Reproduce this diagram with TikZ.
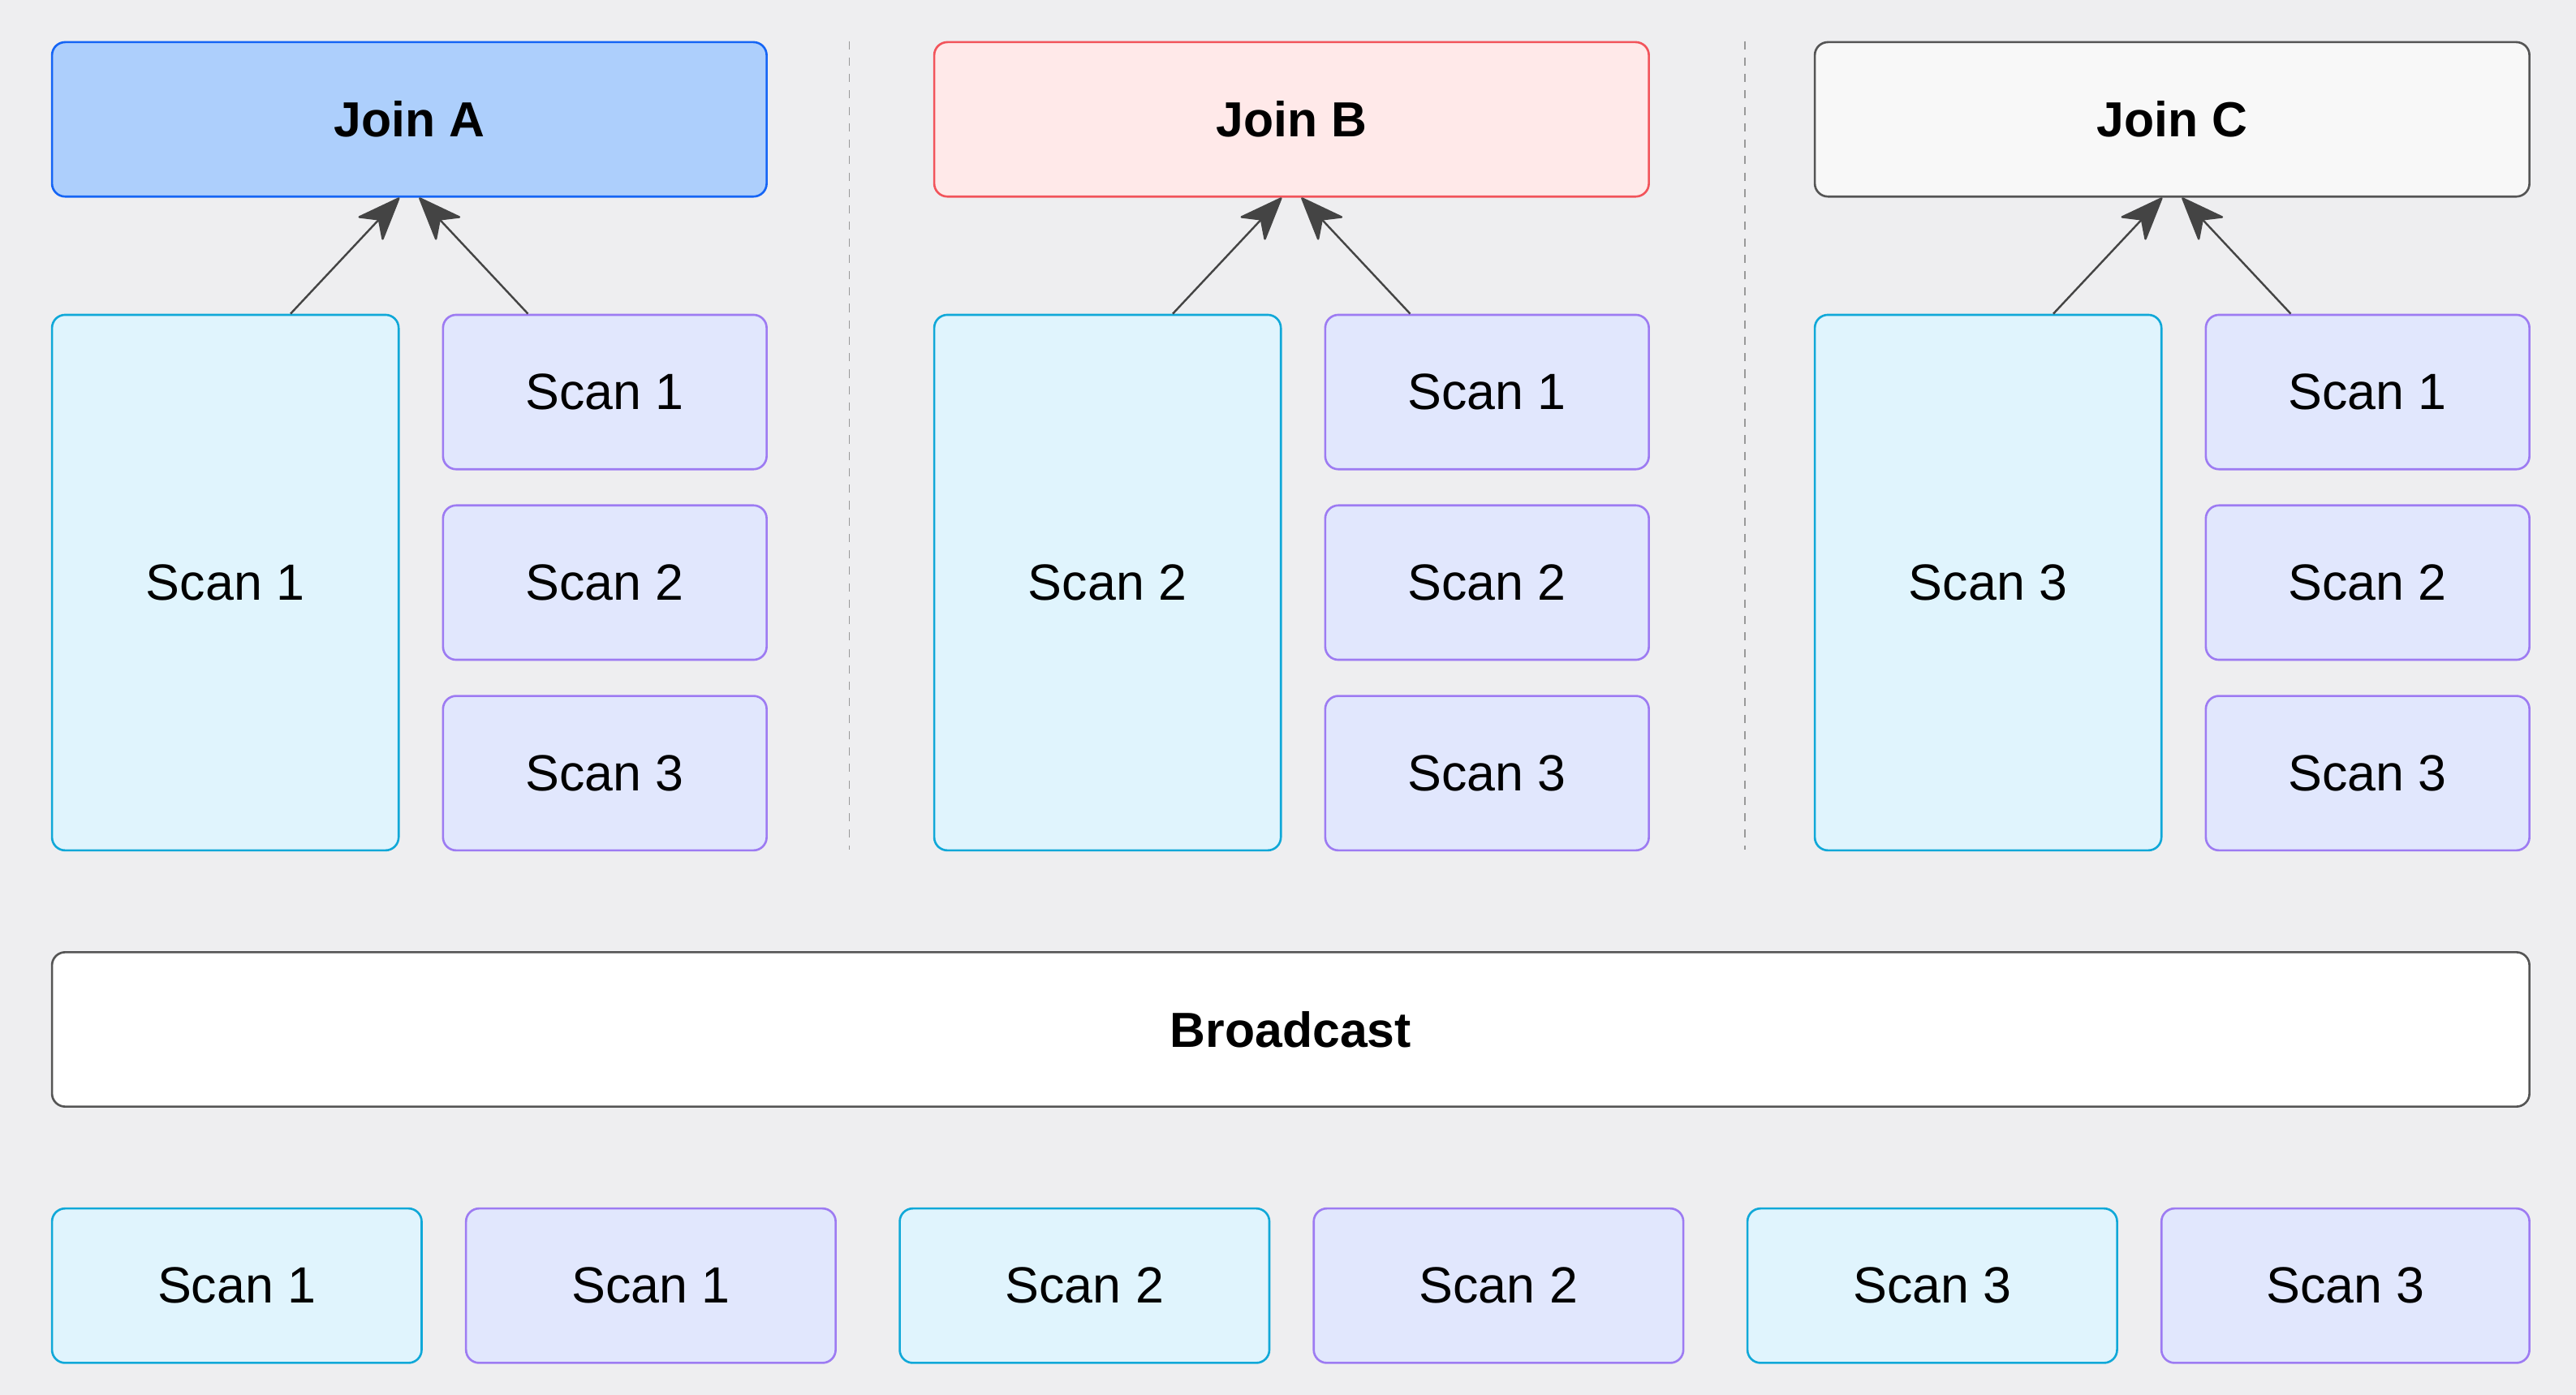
\documentclass[tikz,border=0pt]{standalone}
\usepackage{fontspec}
\setmainfont{Liberation Sans}
\usetikzlibrary{calc,arrows.meta}
\definecolor{bgc}{HTML}{EEEEF0}
\definecolor{joinAfill}{HTML}{ADCFFC}
\definecolor{joinAline}{HTML}{1565F5}
\definecolor{joinBfill}{HTML}{FFE9E9}
\definecolor{joinBline}{HTML}{F2545B}
\definecolor{joinCfill}{HTML}{F8F8F8}
\definecolor{darkline}{HTML}{555555}
\definecolor{cyanfill}{HTML}{E0F4FD}
\definecolor{cyanline}{HTML}{10A8D8}
\definecolor{purfill}{HTML}{E1E7FD}
\definecolor{purline}{HTML}{9D7BF2}
\definecolor{arrowc}{HTML}{444444}
\tikzset{
  box/.style={draw, line width=1.3pt, rounded corners=8pt, inner sep=0pt, anchor=north west,
    font=\fontsize{31}{36}\selectfont, text=black},
  joinbox/.style={box, minimum width=435pt, minimum height=94pt, font=\bfseries\fontsize{30}{36}\selectfont},
  tallbox/.style={box, fill=cyanfill, draw=cyanline, minimum width=211pt, minimum height=326pt},
  smallbox/.style={box, fill=purfill, draw=purline, minimum width=197pt, minimum height=94pt},
  cyanbox/.style={box, fill=cyanfill, draw=cyanline, minimum width=225pt, minimum height=94pt},
  purbox/.style={box, fill=purfill, draw=purline, minimum width=225pt, minimum height=94pt},
  sep/.style={draw=gray!80, line width=0.9pt, dash pattern=on 5pt off 5pt},
  conn/.style={draw=arrowc, line width=1.2pt, -{Stealth[length=28pt, width=22pt, inset=8pt, round]}},
}
\begin{document}
\begin{tikzpicture}[x=1pt, y=-1pt]
\fill[bgc] (0,0) rectangle (1568,849);
\useasboundingbox (0,0) rectangle (1568,849);

% separators
\coordinate (s1t) at (517,25); \coordinate (s1b) at (517,517);
\coordinate (s2t) at (1062,25); \coordinate (s2b) at (1062,517);
\draw[sep] (s1t) -- (s1b);
\draw[sep] (s2t) -- (s2b);

% Joins
\node[joinbox, fill=joinAfill, draw=joinAline] (joinA) at (31,25) {Join A};
\node[joinbox, fill=joinBfill, draw=joinBline] (joinB) at (568,25) {Join B};
\node[joinbox, fill=joinCfill, draw=darkline] (joinC) at (1104,25) {Join C};

% Group A
\node[tallbox] (tA) at (31,191) {Scan 1};
\node[smallbox] (a1) at (269,191) {Scan 1};
\node[smallbox] (a2) at (269,307) {Scan 2};
\node[smallbox] (a3) at (269,423) {Scan 3};
% Group B
\node[tallbox] (tB) at (568,191) {Scan 2};
\node[smallbox] (b1) at (806,191) {Scan 1};
\node[smallbox] (b2) at (806,307) {Scan 2};
\node[smallbox] (b3) at (806,423) {Scan 3};
% Group C
\node[tallbox] (tC) at (1104,191) {Scan 3};
\node[smallbox] (c1) at (1342,191) {Scan 1};
\node[smallbox] (c2) at (1342,307) {Scan 2};
\node[smallbox] (c3) at (1342,423) {Scan 3};

% arrows
\foreach \j/\t/\s in {joinA/tA/a1, joinB/tB/b1, joinC/tC/c1}{
  \draw[conn] ($(\t.north west)!0.687!(\t.north east)$) -- ([xshift=-6pt]\j.south);
  \draw[conn] ($(\s.north west)!0.264!(\s.north east)$) -- ([xshift=6pt]\j.south);
}

% Broadcast
\node[box, fill=white, draw=darkline, minimum width=1508pt, minimum height=94pt,
  font=\bfseries\fontsize{30}{36}\selectfont] (bc) at (31,579) {Broadcast};

% bottom row
\node[cyanbox] (r1) at (31,735) {Scan 1};
\node[purbox] (r2) at (283,735) {Scan 1};
\node[cyanbox] (r3) at (547,735) {Scan 2};
\node[purbox] (r4) at (799,735) {Scan 2};
\node[cyanbox] (r5) at (1063,735) {Scan 3};
\node[purbox, minimum width=224pt] (r6) at (1315,735) {Scan 3};
\end{tikzpicture}
\end{document}
